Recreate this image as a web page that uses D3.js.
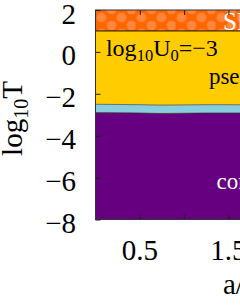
<!DOCTYPE html>
<html>
<head>
<meta charset="utf-8">
<script src="https://cdn.jsdelivr.net/npm/d3@7"></script>
<style>
html,body{margin:0;padding:0;background:#fff;}
svg{display:block;font-family:"Liberation Serif","Times New Roman",serif;}
</style>
</head>
<body>
<svg id="chart" width="240" height="306"></svg>
<script>
// ---- data ----
const xValues   = [0, 0.25, 0.5, 0.75, 1.0, 1.25, 1.5, 1.75, 2.0, 2.5, 3.0];
const upperLogT = [1.0, 1.0, 1.0, 1.0, 1.0, 1.0, 1.0, 1.0, 1.0, 1.0, 1.0];       // orange / yellow
const midLogT   = [-2.50, -2.51, -2.52, -2.54, -2.53, -2.52, -2.52, -2.53, -2.53, -2.53, -2.53]; // yellow / cyan
const lowLogT   = [-2.90, -2.91, -2.92, -2.94, -2.93, -2.92, -2.92, -2.92, -2.92, -2.92, -2.92]; // cyan / purple
const yDomain = [-8, 2];
const xDomain = [0, 3];
const yTickValues = [2, 0, -2, -4, -6, -8];
const yTickLabels = ["2", "0", "\u22122", "\u22124", "\u22126", "\u22128"];
const xTickValues = [0.5, 1.0, 1.5, 2.0, 2.5];
const xLabelValues = [0.5, 1.5, 2.5];
const xLabelTexts = ["0.5", "1.5", "2.5"];
const regionLabels = [
  {x: 1.44, y: 1.05, text: "SF", color: "#fff", size: 25},
  {x: 1.28, y: -1.53, text: "pseudogap", color: "#000", size: 23},
  {x: 1.366, y: -6.54, text: "condensate", color: "#fff", size: 23}
];

// ---- layout ----
const svg = d3.select("#chart");
const mLeft = 95.5, mTop = 10, mBottom = 219.5;
const x = d3.scaleLinear().domain(xDomain).range([mLeft, mLeft + 88.6 * 3]);
const y = d3.scaleLinear().domain(yDomain).range([mBottom, mTop]);
const mRight = x(xDomain[1]);

const defs = svg.append("defs");
defs.append("clipPath").attr("id", "clip").append("rect")
  .attr("x", mLeft).attr("y", mTop).attr("width", mRight - mLeft).attr("height", mBottom - mTop);
const pat = defs.append("pattern").attr("id", "dots").attr("patternUnits", "userSpaceOnUse")
  .attr("x", mLeft).attr("y", mTop).attr("width", 40).attr("height", 16);
pat.append("rect").attr("width", 40).attr("height", 16).attr("fill", "#ff6600");
[[6, 7.5], [26, 7.5], [16, 15.5], [36, 15.5], [16, -0.5], [36, -0.5]].forEach(([cx, cy]) =>
  pat.append("circle").attr("cx", cx).attr("cy", cy).attr("r", 4.8).attr("fill", "#ff9455").attr("opacity", 0.7));

const data = xValues.map((v, i) => ({x: v, up: upperLogT[i], mid: midLogT[i], low: lowLogT[i]}));
const g = svg.append("g").attr("clip-path", "url(#clip)");
const curve = d3.curveMonotoneX;

g.append("path").datum(data).attr("fill", "url(#dots)")
  .attr("d", d3.area().curve(curve).x(d => x(d.x)).y0(d => y(d.up)).y1(() => y(yDomain[1])));
g.append("path").datum(data).attr("fill", "#ffcc00")
  .attr("d", d3.area().curve(curve).x(d => x(d.x)).y0(d => y(d.mid)).y1(d => y(d.up)));
g.append("path").datum(data).attr("fill", "#88ccdd")
  .attr("d", d3.area().curve(curve).x(d => x(d.x)).y0(d => y(d.low)).y1(d => y(d.mid)));
g.append("path").datum(data).attr("fill", "#660080")
  .attr("d", d3.area().curve(curve).x(d => x(d.x)).y0(() => y(yDomain[0])).y1(d => y(d.low)));

g.append("path").datum(data).attr("fill", "none").attr("stroke", "#111").attr("stroke-width", 1)
  .attr("d", d3.line().curve(curve).x(d => x(d.x)).y(d => y(d.up)));
g.append("path").datum(data).attr("fill", "none").attr("stroke", "#555").attr("stroke-width", 0.8)
  .attr("d", d3.line().curve(curve).x(d => x(d.x)).y(d => y(d.mid)));
g.append("path").datum(data).attr("fill", "none").attr("stroke", "#333").attr("stroke-width", 0.8)
  .attr("d", d3.line().curve(curve).x(d => x(d.x)).y(d => y(d.low)));

// region labels
regionLabels.forEach(r => {
  g.append("text").attr("x", x(r.x)).attr("y", y(r.y)).attr("fill", r.color)
    .attr("font-size", r.size).text(r.text);
});
// U0 annotation
const ann = g.append("text").attr("x", x(0.118)).attr("y", y(-0.2)).attr("font-size", 24).attr("fill", "#000");
ann.append("tspan").text("log");
ann.append("tspan").attr("font-size", 16.5).attr("dy", 5).text("10");
ann.append("tspan").attr("dy", -5).text("U");
ann.append("tspan").attr("font-size", 16.5).attr("dy", 5).text("0");
ann.append("tspan").attr("dy", -5).text("=\u22123");

// frame
svg.append("rect").attr("x", mLeft).attr("y", mTop).attr("width", mRight - mLeft).attr("height", mBottom - mTop)
  .attr("fill", "none").attr("stroke", "#333").attr("stroke-width", 1);

// axes (inward ticks)
const yAxis = d3.axisLeft(y).tickValues(yTickValues).tickSizeInner(-5).tickSizeOuter(0).tickFormat("");
svg.append("g").attr("transform", `translate(${mLeft},0)`).call(yAxis)
  .call(s => s.select(".domain").remove()).selectAll("line").attr("stroke", "#222");
const xAxisB = d3.axisBottom(x).tickValues(xTickValues).tickSizeInner(-5).tickSizeOuter(0).tickFormat("");
svg.append("g").attr("transform", `translate(0,${mBottom})`).call(xAxisB)
  .call(s => s.select(".domain").remove()).selectAll("line").attr("stroke", "#222");
const xAxisT = d3.axisTop(x).tickValues(xTickValues).tickSizeInner(-5).tickSizeOuter(0).tickFormat("");
svg.append("g").attr("transform", `translate(0,${mTop})`).call(xAxisT)
  .call(s => s.select(".domain").remove()).selectAll("line").attr("stroke", "#222");

// tick labels
svg.append("g").selectAll("text").data(yTickValues).join("text")
  .attr("x", 76).attr("y", d => y(d) + 13.5).attr("text-anchor", "end")
  .attr("font-size", 29).attr("fill", "#000").text((d, i) => yTickLabels[i]);
svg.append("g").selectAll("text").data(xLabelValues).join("text")
  .attr("x", d => x(d)).attr("y", 260).attr("text-anchor", "middle")
  .attr("font-size", 29).attr("fill", "#000").text((d, i) => xLabelTexts[i]);

// axis titles
const yt = svg.append("text").attr("transform", "translate(22,118.5) rotate(-90)")
  .attr("text-anchor", "middle").attr("font-size", 29).attr("fill", "#000");
yt.append("tspan").text("log");
yt.append("tspan").attr("font-size", 20).attr("dy", 6).text("10");
yt.append("tspan").attr("dy", -6).text("T");
svg.append("text").attr("x", 223).attr("y", 294).attr("font-size", 29).attr("fill", "#000").text("a/a\u2080");
</script>
</body>
</html>
